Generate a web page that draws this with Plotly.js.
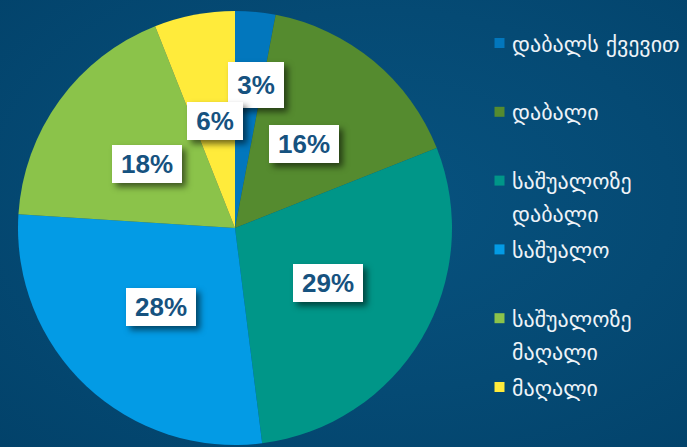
<!DOCTYPE html>
<html>
<head>
<meta charset="utf-8">
<script src="https://cdn.plot.ly/plotly-3.0.1.min.js"></script>
<style>
  html, body { margin: 0; padding: 0; }
  body { width: 687px; height: 447px; overflow: hidden;
         background: radial-gradient(ellipse at 55% 45%, #07527f 0%, #054a74 55%, #02426a 100%); }
  #chart { width: 687px; height: 447px; }
  .annotation rect.bg { filter: drop-shadow(4px 4px 3px rgba(0,0,0,0.55)); }
</style>
</head>
<body>
<div id="chart"></div>
<script>
// ---- data ----
const categories = ['დაბალს ქვევით', 'დაბალი', 'საშუალოზე დაბალი', 'საშუალო', 'საშუალოზე მაღალი', 'მაღალი'];
const legendLabels = ['დაბალს ქვევით', 'დაბალი', 'საშუალოზე<br>დაბალი', 'საშუალო', 'საშუალოზე<br>მაღალი', 'მაღალი'];
const values = [3, 16, 29, 28, 18, 6];

// ---- style ----
const colors = ['#0277BD', '#558B2F', '#009688', '#039BE5', '#8BC34A', '#FFEB3B'];
const labelRadius = [0.665, 0.5, 0.5, 0.5, 0.5, 0.5]; // fraction of pie radius
const labelAngleOffset = [3, 0, 0, 0, 0, 0];          // degrees
const W = 687, H = 447;
const cx = 235, cy = 228, R = 217;
const legendFirstY = 43, legendStep = 68.8, legendLineGap = 33, legendMarkerX = 499.5, legendTextX = 512;

const total = values.reduce((a, b) => a + b, 0);
let cum = 0;
const annotations = values.map((v, i) => {
  const mid = ((cum + v / 2) / total * 360 + labelAngleOffset[i]) * Math.PI / 180;
  cum += v;
  const r = R * labelRadius[i];
  const px = cx + r * Math.sin(mid);
  const py = cy - r * Math.cos(mid);
  const txt = Math.round(v / total * 100) + '%';
  return {
    xref: 'paper', yref: 'paper',
    x: px / W, y: 1 - py / H,
    xanchor: 'center', yanchor: 'middle',
    text: '<b>' + txt + '</b>',
    showarrow: false,
    bgcolor: '#ffffff',
    borderpad: 0, borderwidth: 0,
    width: txt.length > 2 ? 70 : 56,
    height: i === 0 ? 46 : 38,
    font: { family: 'Liberation Sans, Arial, sans-serif', size: 26, color: '#16527f' }
  };
});

const trace = {
  type: 'pie',
  labels: legendLabels,
  values: values,
  sort: false,
  direction: 'clockwise',
  rotation: 0,
  textinfo: 'none',
  hoverinfo: 'label+percent',
  marker: { colors: colors, line: { width: 0 } },
  domain: { x: [(cx - R) / W, (cx + R) / W], y: [(H - cy - R) / H, (H - cy + R) / H] }
};

const layout = {
  width: W, height: H,
  margin: { l: 0, r: 0, t: 0, b: 0, autoexpand: false },
  paper_bgcolor: 'rgba(0,0,0,0)',
  plot_bgcolor: 'rgba(0,0,0,0)',
  showlegend: true,
  legend: {
    x: 480 / W, y: 1 - 24 / H, xanchor: 'left', yanchor: 'top',
    valign: 'top',
    bgcolor: 'rgba(0,0,0,0)',
    font: { family: 'DejaVu Sans, sans-serif', size: 22, color: '#eef3f8' },
    traceorder: 'normal'
  },
  annotations: annotations
};

Plotly.newPlot('chart', [trace], layout, { displayModeBar: false, staticPlot: true }).then(gd => {
  const legend = gd.querySelector('.legend');
  if (!legend) return;
  legend.removeAttribute('clip-path');
  legend.querySelectorAll('[clip-path]').forEach(el => el.removeAttribute('clip-path'));
  const items = legend.querySelectorAll('g.traces');
  items.forEach((g, i) => {
    const sym = g.querySelector('.legendpoints path');
    const txt = g.querySelector('text.legendtext');
    if (sym) sym.setAttribute('d', 'M5,5H-5V-5H5Z');
    if (txt) {
      txt.querySelectorAll('tspan.line').forEach((t, k) => { if (k > 0) t.setAttribute('dy', legendLineGap + 'px'); });
    }
    if (sym) {
      const b = sym.getBoundingClientRect();
      const m = (g.getAttribute('transform') || '').match(/translate\(([-\d.]+)[ ,]+([-\d.]+)\)/);
      const tx = m ? parseFloat(m[1]) : 0, ty = m ? parseFloat(m[2]) : 0;
      g.setAttribute('transform', 'translate(' + (tx + legendMarkerX - (b.left + b.width / 2)) + ',' +
        (ty + legendFirstY + i * legendStep - (b.top + b.height / 2)) + ')');
    }
  });
  items.forEach(g => {
    const txt = g.querySelector('text.legendtext');
    if (!txt) return;
    const tb = txt.getBoundingClientRect();
    const x0 = parseFloat(txt.getAttribute('x') || '0') + (legendTextX - tb.left);
    txt.setAttribute('x', x0);
    txt.querySelectorAll('tspan.line').forEach(t => { if (t.hasAttribute('x')) t.setAttribute('x', x0); });
  });
});
</script>
</body>
</html>
